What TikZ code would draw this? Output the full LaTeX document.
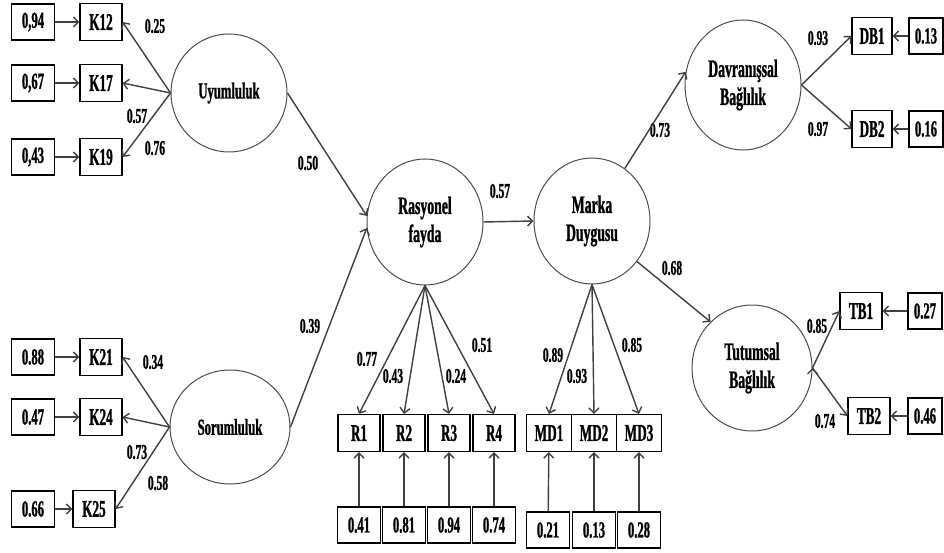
\documentclass[tikz,border=0pt]{standalone}
\usepackage{fontspec}
\newfontfamily\semfont{Liberation Serif}[FakeStretch=0.55,FakeBold=1]
\usetikzlibrary{shapes.geometric,arrows.meta}

\begin{document}
\begin{tikzpicture}[x=1pt,y=-1pt,->,>={Straight Barb[length=5pt,width=10pt]},auto]
	\tikzset{lat/.style={ellipse,draw=black!70,line width=1pt,minimum width=116pt,minimum height=126pt,align=center,font=\semfont\bfseries\fontsize{25}{28}\selectfont},
		obs/.style={rectangle,draw,line width=1.2pt,minimum width=42pt,minimum height=37pt,inner sep=0pt,font=\semfont\bfseries\fontsize{24}{26}\selectfont},
		err/.style={obs,minimum width=43pt,minimum height=36pt,font=\semfont\bfseries\fontsize{23}{26}\selectfont},
		wt/.style={inner sep=0pt,font=\semfont\bfseries\fontsize{21}{24}\selectfont},
		conn/.style={draw=black!75,line width=1.4pt}}
	\useasboundingbox (0,0) rectangle (944,553);
	% latent variables
	\node[lat,minimum width=116pt,minimum height=118pt,font=\semfont\bfseries\fontsize{23}{28}\selectfont] (Uyum) at (229,93) {Uyumluluk};
	\node[lat,minimum width=120pt,minimum height=114pt,font=\semfont\bfseries\fontsize{23}{28}\selectfont] (Sorum) at (230,427) {Sorumluluk};
	\node[lat] (Rasy) at (425,222) {Rasyonel\\fayda};
	\node[lat] (Marka) at (592,221) {Marka\\Duygusu};
	\node[lat,minimum height=130pt] (Davr) at (743,85) {Davranışsal\\Bağlılık};
	\node[lat,minimum width=120pt] (Tutum) at (752,368) {Tutumsal\\Bağlılık};
	% indicators on the left
	\node[obs] (K12) at (101,22) {K12};
	\node[obs] (K17) at (101,83) {K17};
	\node[obs] (K19) at (101,157) {K19};
	\node[obs] (K21) at (101,357) {K21};
	\node[obs] (K24) at (101,417) {K24};
	\node[obs] (K25) at (94,509) {K25};
	\node[err] (e12) at (33,22) {0,94};
	\node[err] (e17) at (33,83) {0,67};
	\node[err] (e19) at (33,157) {0,43};
	\node[err] (e21) at (33,357) {0.88};
	\node[err] (e24) at (33,417) {0.47};
	\node[err] (e25) at (33,509) {0.66};
	% indicators below
	\node[obs] (R1) at (359,433) {R1};
	\node[obs] (R2) at (404,433) {R2};
	\node[obs] (R3) at (449,433) {R3};
	\node[obs] (R4) at (494,433) {R4};
	\node[obs,minimum width=45pt] (MD1) at (549,433) {MD1};
	\node[obs,minimum width=45pt] (MD2) at (594,433) {MD2};
	\node[obs,minimum width=45pt] (MD3) at (639,433) {MD3};
	\node[err] (eR1) at (359,525) {0.41};
	\node[err] (eR2) at (404,525) {0.81};
	\node[err] (eR3) at (449,525) {0.94};
	\node[err] (eR4) at (494,525) {0.74};
	\node[err] (eMD1) at (548,530) {0.21};
	\node[err] (eMD2) at (594,530) {0.13};
	\node[err] (eMD3) at (639,530) {0.28};
	% indicators on the right
	\node[obs,minimum width=40pt] (DB1) at (872,36) {DB1};
	\node[obs,minimum width=40pt] (DB2) at (872,129) {DB2};
	\node[obs] (TB1) at (861,311) {TB1};
	\node[obs] (TB2) at (869,416) {TB2};
	\node[err,minimum width=34pt] (eDB1) at (926,36) {0.13};
	\node[err,minimum width=34pt] (eDB2) at (926,129) {0.16};
	\node[err,minimum width=34pt] (eTB1) at (925,311) {0.27};
	\node[err,minimum width=34pt] (eTB2) at (925,416) {0.46};
	% weights
	\node[wt] (w1) at (155,26) {0.25};
	\node[wt] (w2) at (137,116) {0.57};
	\node[wt] (w3) at (155,148) {0.76};
	\node[wt] (w4) at (153,362) {0.34};
	\node[wt] (w5) at (137,452) {0.73};
	\node[wt] (w6) at (158,483) {0.58};
	\node[wt] (w7) at (308,163) {0.50};
	\node[wt] (w8) at (310,326) {0.39};
	\node[wt] (w9) at (500,191) {0.57};
	\node[wt] (w10) at (367,359) {0.77};
	\node[wt] (w11) at (393,376) {0.43};
	\node[wt] (w12) at (456,376) {0.24};
	\node[wt] (w13) at (482,345) {0.51};
	\node[wt] (w14) at (553,355) {0.89};
	\node[wt] (w15) at (577,376) {0.93};
	\node[wt] (w16) at (632,345) {0.85};
	\node[wt] (w17) at (660,130) {0.73};
	\node[wt] (w18) at (672,268) {0.68};
	\node[wt] (w19) at (818,38) {0.93};
	\node[wt] (w20) at (818,129) {0.97};
	\node[wt] (w21) at (817,326) {0.85};
	\node[wt] (w22) at (825,421) {0.74};
	\path[conn]
		(Uyum.west)
			edge (K12.east)
			edge (K17.east)
			edge (K19.east)
		(Sorum.west)
			edge (K21.east)
			edge (K24.east)
			edge (K25.east)
		(Uyum.east)
			edge (Rasy.174)
		(Sorum.east)
			edge (Rasy.186)
		(Rasy.east)
			edge (Marka.west)
		(Rasy.south)
			edge (R1.north)
			edge (R2.north)
			edge (R3.north)
			edge (R4.north)
		(Marka.south)
			edge (MD1.north)
			edge (MD2.north)
			edge (MD3.north)
		(Marka.58)
			edge (Davr.167)
		(Marka.-42)
			edge (Tutum.132)
		(Davr.east)
			edge (DB1.west)
			edge (DB2.west)
		(Tutum.east)
			edge (TB1.west)
			edge (TB2.west);
	\path[conn]
		(e12) edge (K12)
		(e17) edge (K17)
		(e19) edge (K19)
		(e21) edge (K21)
		(e24) edge (K24)
		(e25) edge (K25)
		(eR1) edge (R1)
		(eR2) edge (R2)
		(eR3) edge (R3)
		(eR4) edge (R4)
		(eMD1) edge (MD1)
		(eMD2) edge (MD2)
		(eMD3) edge (MD3)
		(eDB1) edge (DB1)
		(eDB2) edge (DB2)
		(eTB1) edge (TB1)
		(eTB2) edge (TB2);
\end{tikzpicture}
\end{document}
